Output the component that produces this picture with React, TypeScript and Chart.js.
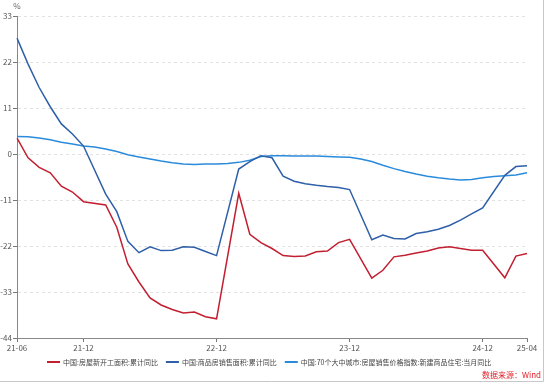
import React, { useEffect, useRef } from "react";
import { Chart, registerables } from "chart.js";

Chart.register(...registerables);

const months = [
  "21-06", "21-07", "21-08", "21-09", "21-10", "21-11", "21-12",
  "22-01", "22-02", "22-03", "22-04", "22-05", "22-06", "22-07", "22-08", "22-09", "22-10", "22-11", "22-12",
  "23-01", "23-02", "23-03", "23-04", "23-05", "23-06", "23-07", "23-08", "23-09", "23-10", "23-11", "23-12",
  "24-01", "24-02", "24-03", "24-04", "24-05", "24-06", "24-07", "24-08", "24-09", "24-10", "24-11", "24-12",
  "25-01", "25-02", "25-03", "25-04",
];

const shownTicks = ["21-06", "21-12", "22-12", "23-12", "24-12", "25-04"];

// 中国:房屋新开工面积:累计同比
const newStarts: (number | null)[] = [
  3.8, -0.9, -3.2, -4.5, -7.7, -9.1, -11.4,
  null, -12.2, -17.5, -26.3, -30.6, -34.4, -36.1, -37.2, -38.0, -37.8, -38.9, -39.4,
  null, -9.4, -19.2, -21.2, -22.6, -24.3, -24.5, -24.4, -23.4, -23.2, -21.2, -20.4,
  null, -29.7, -27.8, -24.6, -24.2, -23.7, -23.2, -22.5, -22.2, -22.6, -23.0, -23.0,
  null, -29.6, -24.4, -23.8,
];

// 中国:商品房销售面积:累计同比
const salesArea: (number | null)[] = [
  27.7, 21.5, 15.9, 11.3, 7.2, 4.8, 1.9,
  null, -9.6, -13.8, -20.9, -23.6, -22.2, -23.1, -23.0, -22.2, -22.3, -23.3, -24.3,
  null, -3.6, -1.8, -0.4, -0.9, -5.3, -6.5, -7.1, -7.5, -7.8, -8.0, -8.5,
  null, -20.5, -19.4, -20.2, -20.3, -19.0, -18.6, -18.0, -17.1, -15.8, -14.3, -12.9,
  null, -5.1, -3.0, -2.8,
];

// 中国:70个大中城市:房屋销售价格指数:新建商品住宅:当月同比
const priceIndex: number[] = [
  4.2, 4.1, 3.8, 3.4, 2.8, 2.4, 1.9,
  1.7, 1.2, 0.6, -0.2, -0.7, -1.2, -1.7, -2.1, -2.4, -2.5, -2.4, -2.4,
  -2.3, -2.0, -1.5, -0.6, -0.4, -0.4, -0.5, -0.5, -0.5, -0.6, -0.7, -0.8,
  -1.2, -1.8, -2.7, -3.5, -4.2, -4.8, -5.3, -5.7, -6.0, -6.2, -6.1, -5.7,
  -5.4, -5.2, -5.0, -4.5,
];

const seriesNames = [
  "中国:房屋新开工面积:累计同比",
  "中国:商品房销售面积:累计同比",
  "中国:70个大中城市:房屋销售价格指数:新建商品住宅:当月同比",
];
const seriesColors = ["#C21F30", "#2E5FA8", "#2B8BDB"];

const yMin = -44;
const yMax = 33;
const yStep = 11;
const unitLabel = "%";
const sourceText = "数据来源：Wind";

const FONT = "'Noto Sans CJK SC', 'Microsoft YaHei', sans-serif";

export default function App() {
  const ref = useRef<HTMLCanvasElement>(null);

  useEffect(() => {
    if (!ref.current) return;

    const extras = {
      id: "extras",
      afterDraw(chart: any) {
        const ctx = chart.ctx as CanvasRenderingContext2D;
        const yScale = chart.scales.y;
        ctx.save();
        // unit label
        ctx.fillStyle = "#666";
        ctx.font = `8px ${FONT}`;
        ctx.textAlign = "center";
        ctx.textBaseline = "middle";
        ctx.fillText(unitLabel, yScale.right, 5.5);
        // legend
        let x = 47;
        const y = 362;
        ctx.font = `7px ${FONT}`;
        ctx.textAlign = "left";
        chart.data.datasets.forEach((ds: any) => {
          ctx.strokeStyle = ds.borderColor;
          ctx.lineWidth = 2;
          ctx.beginPath();
          ctx.moveTo(x, y);
          ctx.lineTo(x + 13, y);
          ctx.stroke();
          x += 16;
          ctx.fillStyle = "#444";
          ctx.fillText(ds.label, x, y);
          x += ctx.measureText(ds.label).width + 8;
        });
        // source
        ctx.font = `8px ${FONT}`;
        ctx.fillStyle = "#E0242B";
        ctx.textAlign = "right";
        ctx.fillText(sourceText, 541, 375);
        // frame
        ctx.strokeStyle = "#c8c8c8";
        ctx.lineWidth = 1;
        ctx.beginPath();
        ctx.moveTo(543.5, 0);
        ctx.lineTo(543.5, 381.5);
        ctx.lineTo(0, 381.5);
        ctx.stroke();
        ctx.restore();
      },
    };

    const isShown = (i: number) => shownTicks.includes(months[i]);

    const chart = new Chart(ref.current, {
      type: "line",
      data: {
        labels: months,
        datasets: [
          { label: seriesNames[0], data: newStarts, borderColor: seriesColors[0], backgroundColor: seriesColors[0] },
          { label: seriesNames[1], data: salesArea, borderColor: seriesColors[1], backgroundColor: seriesColors[1] },
          { label: seriesNames[2], data: priceIndex, borderColor: seriesColors[2], backgroundColor: seriesColors[2] },
        ].map((d) => ({
          ...d,
          borderWidth: 1.5,
          pointRadius: 0,
          tension: 0,
          spanGaps: true,
        })),
      },
      options: {
        animation: false,
        responsive: false,
        devicePixelRatio: 1,
        layout: { padding: { left: 0, right: 23, top: 16, bottom: 33 } },
        plugins: {
          legend: { display: false },
          tooltip: { enabled: false },
        },
        scales: {
          x: {
            type: "category",
            offset: false,
            afterFit: (s: any) => {
              s.height = 14;
            },
            grid: {
              drawOnChartArea: false,
              drawTicks: true,
              tickLength: 4,
              tickColor: (c: any) => (isShown(c.index) ? "#777" : "rgba(0,0,0,0)"),
            },
            border: { display: true, color: "#888", width: 1 },
            ticks: {
              autoSkip: false,
              maxRotation: 0,
              minRotation: 0,
              padding: 1,
              color: "#555",
              font: { size: 8, family: FONT },
              callback: (_v: any, i: number) => (isShown(i) ? months[i] : ""),
            },
          },
          y: {
            min: yMin,
            max: yMax,
            afterFit: (s: any) => {
              s.width = 17;
            },
            grid: {
              color: "#e2e2e2",
              drawTicks: true,
              tickLength: 4,
              tickColor: "#777",
              tickBorderDash: [],
            },
            border: { display: true, color: "#888", width: 1, dash: [3, 3] },
            ticks: {
              stepSize: yStep,
              padding: 1,
              color: "#555",
              font: { size: 8, family: FONT },
            },
          },
        },
      },
      plugins: [extras],
    } as any);

    return () => chart.destroy();
  }, []);

  return (
    <div style={{ position: "absolute", left: 0, top: 0, width: 550, height: 385, background: "#fff" }}>
      <canvas ref={ref} width={550} height={385} style={{ width: 550, height: 385, display: "block" }} />
    </div>
  );
}
